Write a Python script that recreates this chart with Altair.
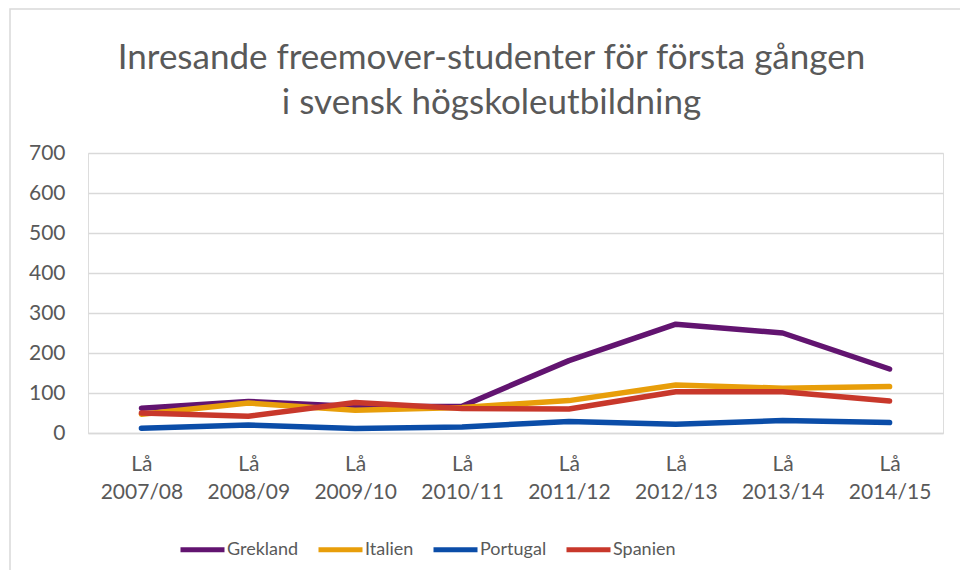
import altair as alt
import pandas as pd

years = ["Lå 2007/08", "Lå 2008/09", "Lå 2009/10", "Lå 2010/11",
         "Lå 2011/12", "Lå 2012/13", "Lå 2013/14", "Lå 2014/15"]
grekland = [62, 79, 66, 67, 181, 272, 250, 160]
italien = [47, 75, 57, 64, 81, 120, 112, 116]
portugal = [12, 20, 11, 15, 29, 22, 31, 26]
spanien = [50, 42, 76, 61, 60, 103, 103, 80]

series = ["Grekland", "Italien", "Portugal", "Spanien"]
colors = ["#621470", "#E89E0A", "#0B4DA8", "#C8382B"]

rows = []
for name, vals in zip(series, [grekland, italien, portugal, spanien]):
    for y, v in zip(years, vals):
        rows.append({"År": y, "Land": name, "Antal": v})
df = pd.DataFrame(rows)

FONT = "Lato"
GREY = "#595959"

lines = alt.Chart(df).mark_line(strokeWidth=5.5, strokeCap="round", strokeJoin="round").encode(
    x=alt.X("År:N", sort=years, title=None,
            scale=alt.Scale(paddingInner=0, paddingOuter=0.5),
            axis=alt.Axis(labelExpr="split(datum.label, ' ')", labelAngle=0,
                          labelFontSize=21, labelColor=GREY, labelFont=FONT,
                          labelLineHeight=28, labelPadding=20, ticks=False,
                          domainColor="#D9D9D9", domainWidth=1.5)),
    y=alt.Y("Antal:Q", title=None,
            scale=alt.Scale(domain=[0, 700]),
            axis=alt.Axis(values=[0, 100, 200, 300, 400, 500, 600, 700],
                          labelFontSize=21, labelColor=GREY, labelFont=FONT,
                          labelPadding=23, ticks=False, domain=False,
                          gridColor="#D9D9D9", gridWidth=1.5)),
    color=alt.Color("Land:N", sort=series,
                    scale=alt.Scale(domain=series, range=colors),
                    legend=alt.Legend(title=None, orient="none", direction="horizontal",
                                      legendX=90, legendY=372,
                                      symbolType="stroke", symbolStrokeWidth=5,
                                      symbolSize=1936, labelFontSize=18,
                                      labelColor=GREY, labelFont=FONT,
                                      columnPadding=9, labelOffset=0)),
)

border_df = pd.DataFrame({"k": [0]})
border = alt.Chart(border_df).mark_rect(fill=None, stroke="#D9D9D9", strokeWidth=1.5).encode(
    x=alt.value(-78), x2=alt.value(890), y=alt.value(-144), y2=alt.value(440)
)

chart = alt.layer(border, lines).properties(
    width=855, height=280,
    title=alt.TitleParams(
        text=["Inresande freemover-studenter för första gången",
              "i svensk högskoleutbildning"],
        fontSize=35, font=FONT, color=GREY, fontWeight="normal",
        anchor="middle", lineHeight=45, offset=-113, dx=-24),
    autosize=alt.AutoSizeParams(type="none"),
    padding={"left": 80, "top": 145, "right": 17, "bottom": 137},
).configure_view(stroke=None).configure(background="white")

chart.save("out.html", embed_options={"renderer": "svg", "actions": False})
